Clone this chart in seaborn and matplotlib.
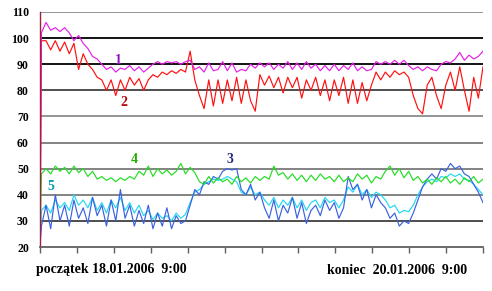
import numpy as np
import pandas as pd
import matplotlib
matplotlib.use("Agg")
import matplotlib.pyplot as plt
import seaborn as sns

# ---- data ----
s1 = [20, 102, 106, 103, 104, 102.5, 104, 102, 99, 101, 98, 96, 93, 92, 90, 88, 89, 87, 88.5, 88,
      89.5, 87.5, 89, 87, 88.5, 90, 91, 90, 91, 90.5, 91, 90, 91, 91.5, 88, 89, 87, 90.5, 87.5, 88,
      91, 87.5, 90.5, 87, 88, 87.5, 90, 88.5, 90.5, 89, 90.5, 88, 90, 88.5, 91, 88, 90.5, 88, 91, 88.5,
      90, 87.5, 89.5, 87.5, 90, 87.5, 89.5, 88, 90.5, 87.5, 89, 87.5, 88, 91, 90, 91, 90, 91.5, 90, 91.5,
      89.5, 88, 89, 87.5, 89, 88, 87.5, 90, 91, 90.5, 92, 94.5, 91.5, 93.5, 92, 93, 95]
s2 = [20, 99, 99, 95.5, 99, 95, 98.5, 94, 98, 88, 94, 90, 88, 85, 84, 80, 84, 78, 84, 80,
      85, 82, 84.5, 80, 84, 86, 85, 87, 86, 87.5, 86.5, 88, 87, 95, 84, 78, 73, 84, 74, 84,
      75, 84, 76, 85, 75, 84, 76, 72, 86, 82, 85.5, 81, 85, 79, 85, 81, 85, 77, 84, 80,
      85, 78, 84, 76, 84, 78, 85, 75, 84, 75, 83, 76, 82, 87, 84, 87, 85, 87.5, 86, 87,
      85, 78, 73, 71, 82, 85, 78, 73, 82, 87, 80, 89, 80, 72, 85, 77, 89]
s3 = [20, 28, 36, 27, 40, 30, 36, 28, 38, 31, 35, 29, 39, 32, 36, 28, 38, 30, 42, 31,
      36, 28, 34, 29, 36, 27, 33, 28, 35, 27, 32, 29, 30, 36, 42, 40, 45, 44, 47, 46,
      49, 50, 49.5, 50, 42, 40, 44, 38, 41, 35, 31, 38, 30, 36, 33, 39, 31, 37, 29, 34,
      36, 32, 38, 34, 37, 31, 35, 47, 42, 44, 38, 42, 35, 40, 37, 35, 31, 33, 28, 30,
      29, 33, 38, 43, 46, 48, 46, 50, 49, 52, 50, 51, 48, 47, 44, 41, 37]
s4 = [20, 48, 50, 48, 51, 49, 50.5, 48, 51, 48.5, 50, 47, 49, 46, 47, 45.5, 46.5, 45, 46.5, 45.5,
      47, 46, 49, 47.5, 51, 47, 50, 48, 49.5, 47.5, 49, 52, 48, 50.5, 48.5, 45, 44, 47, 44.5, 46.5,
      45, 46, 44, 47, 45, 46.5, 44.5, 47, 45.5, 47, 46, 51, 47.5, 48.5, 46, 48, 45.5, 47.5, 45, 47.5,
      45.5, 48, 46, 47, 45, 47.5, 45, 46.5, 45, 48, 46, 47.5, 44.5, 47, 46, 49, 51, 47.5, 50, 46.5,
      49, 45.5, 47, 44.5, 46, 44, 46.5, 45, 47, 44.5, 46, 44, 46.5, 45, 47, 44.5, 46]
s5 = [20, 34, 36, 33, 38, 35, 37, 34, 40, 36, 38, 35, 39, 34, 37, 33, 38, 35, 39, 34,
      37, 33, 36, 32, 34, 30.5, 33, 31, 32, 30, 33, 31, 32.5, 37, 41, 42, 44, 45, 46, 45.5,
      46, 47, 46, 45, 41, 40, 43, 40, 41, 38, 36, 39, 35, 38, 36, 39, 35, 38, 34, 37,
      38, 35, 39, 37, 38, 35, 38, 43, 41, 44, 40, 42, 39, 41, 40, 38, 35, 36, 33, 34,
      33.5, 36, 40, 43, 45, 46, 45, 47, 46.5, 48, 47, 48, 46, 45.5, 44, 42, 40]
series_names = ["5", "3", "4", "2", "1"]
start_label = "początek 18.01.2006  9:00"
end_label = "koniec  20.01.2006  9:00"
y_ticks = [20, 30, 40, 50, 60, 70, 80, 90, 100, 110]

hours = np.r_[0.0, np.linspace(0.15, 48, len(s1) - 1)]

colors = {"1": "#e81ee8", "2": "#ff1010", "3": "#3a62e0", "4": "#22dd22", "5": "#20d8f0"}
label_colors = {"1": "#8a1ab8", "2": "#b01010", "3": "#252a80", "4": "#22b000", "5": "#00a0b0"}

df = pd.concat([
    pd.DataFrame({"h": hours, "v": vals, "s": name})
    for name, vals in zip(series_names, [s5, s3, s4, s2, s1])
])

fig = plt.figure(figsize=(4.92, 2.91), dpi=100)
ax = fig.add_axes([40 / 492, 1 - 247 / 291, 443 / 492, 235 / 291])

grid_cols = {110: "#8c8c8c", 100: "#000000", 90: "#000000", 80: "#404040", 70: "#8c8c8c",
             60: "#7a7a7a", 50: "#7a7a7a", 40: "#7a7a7a", 30: "#404040"}
for yv, c in grid_cols.items():
    ax.axhline(yv, color=c, lw=1.3, zorder=0.5)

sns.lineplot(data=df, x="h", y="v", hue="s", palette=colors, hue_order=series_names,
             legend=False, lw=0.85, ax=ax, estimator=None, sort=False)

ax.set_xlim(0, 48)
ax.set_ylim(20, 110)
ax.set_yticks(y_ticks)
ax.set_yticklabels([str(t) for t in y_ticks], fontfamily="Liberation Serif",
                   fontweight="bold", fontsize=8.5)
ax.set_xticks(np.arange(0, 49, 4))
ax.set_xticklabels([])
ax.tick_params(axis="x", direction="out", length=4, width=1, color="#606060")
ax.tick_params(axis="y", length=0, pad=8)
ax.set_xlabel("")
ax.set_ylabel("")
for sp in ["top", "right"]:
    ax.spines[sp].set_visible(False)
ax.spines["bottom"].set_color("#606060")
ax.spines["bottom"].set_linewidth(1.3)
ax.spines["left"].set_color("#a02040")
ax.spines["left"].set_linewidth(1.0)
ax.set_facecolor("white")

lab_font = dict(fontfamily="Liberation Serif", fontweight="bold", fontsize=10)
ax.text(8.5, 91.5, "1", color=label_colors["1"], ha="center", va="center", **lab_font)
ax.text(9.1, 75.5, "2", color=label_colors["2"], ha="center", va="center", **lab_font)
ax.text(10.2, 53.5, "4", color=label_colors["4"], ha="center", va="center", **lab_font)
ax.text(20.6, 53.5, "3", color=label_colors["3"], ha="center", va="center", **lab_font)
ax.text(1.2, 43, "5", color=label_colors["5"], ha="center", va="center", **lab_font)

fig.text(36 / 492, 1 - 270 / 291, start_label, fontfamily="Liberation Serif",
         fontweight="bold", fontsize=10, ha="left", va="center")
fig.text(327 / 492, 1 - 270 / 291, end_label, fontfamily="Liberation Serif",
         fontweight="bold", fontsize=10, ha="left", va="center")

fig.savefig("out.png", dpi=100, facecolor="white")
